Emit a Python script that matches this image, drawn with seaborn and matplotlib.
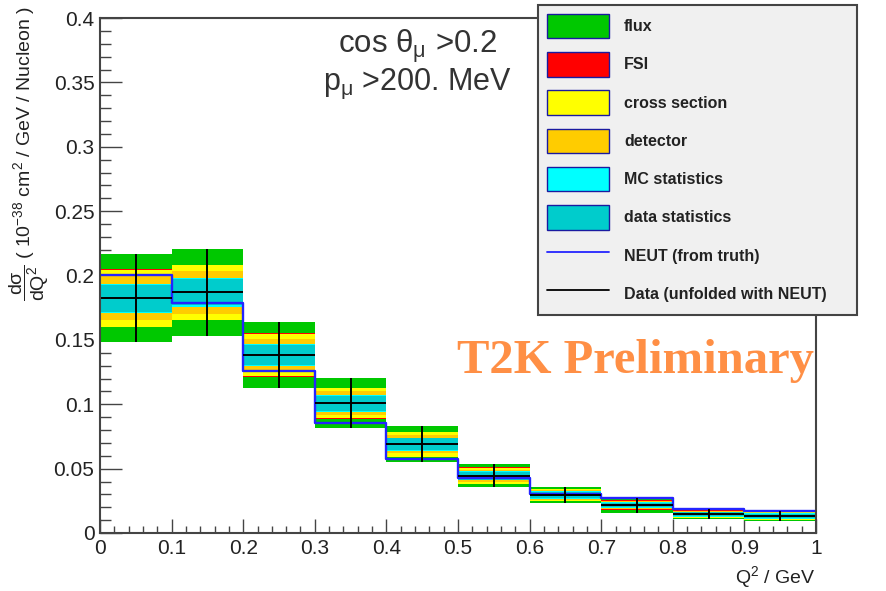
import numpy as np
import pandas as pd
import matplotlib
matplotlib.use("Agg")
import matplotlib.pyplot as plt
import seaborn as sns
from matplotlib.ticker import FixedLocator, FixedFormatter, MultipleLocator
from matplotlib.patches import Patch
from matplotlib.lines import Line2D

# ---- binning and measured cross section (10^-38 cm^2 / GeV / nucleon) ----
bin_edges = [0.0, 0.1, 0.2, 0.3, 0.4, 0.5, 0.6, 0.7, 0.8, 0.9, 1.0]
data_xsec = [0.1824, 0.1869, 0.1382, 0.1007, 0.0689, 0.0445, 0.0295, 0.0217, 0.0145, 0.0132]
neut_xsec = [0.2007, 0.1783, 0.1260, 0.0857, 0.0572, 0.0429, 0.0303, 0.0270, 0.0184, 0.0173]

# cumulative (quadrature-summed) half-widths of the uncertainty bands
err_flux      = [0.0340, 0.0340, 0.0259, 0.0194, 0.0140, 0.0091, 0.0065, 0.0058, 0.0040, 0.0042]
err_fsi       = [0.0226, 0.0216, 0.0170, 0.0120, 0.0097, 0.0064, 0.0049, 0.0042, 0.0031, 0.0033]
err_xsec      = [0.0222, 0.0213, 0.0160, 0.0117, 0.0095, 0.0062, 0.0048, 0.0034, 0.0029, 0.0031]
err_detector  = [0.0169, 0.0165, 0.0122, 0.0093, 0.0071, 0.0046, 0.0037, 0.0028, 0.0024, 0.0025]
err_mc_stat   = [0.0113, 0.0110, 0.0088, 0.0064, 0.0051, 0.0034, 0.0028, 0.0022, 0.0020, 0.0021]
err_data_stat = [0.0104, 0.0100, 0.0080, 0.0058, 0.0047, 0.0030, 0.0025, 0.0018, 0.0016, 0.0017]

band_labels = ["flux", "FSI", "cross section", "detector", "MC statistics", "data statistics"]
band_colors = ["#00c800", "#ff0000", "#ffff00", "#ffcc00", "#00ffff", "#00cccc"]
band_errors = [err_flux, err_fsi, err_xsec, err_detector, err_mc_stat, err_data_stat]

x_ticks = [0.0, 0.1, 0.2, 0.3, 0.4, 0.5, 0.6, 0.7, 0.8, 0.9, 1.0]
x_tick_labels = ["0", "0.1", "0.2", "0.3", "0.4", "0.5", "0.6", "0.7", "0.8", "0.9", "1"]
y_ticks = [0.0, 0.05, 0.1, 0.15, 0.2, 0.25, 0.3, 0.35, 0.4]
y_tick_labels = ["0", "0.05", "0.1", "0.15", "0.2", "0.25", "0.3", "0.35", "0.4"]

# ---- style ----
sns.set_style("ticks")
plt.rcParams["font.family"] = ["Liberation Sans", "DejaVu Sans"]
plt.rcParams["mathtext.fontset"] = "custom"
plt.rcParams["mathtext.rm"] = "Liberation Sans"
plt.rcParams["mathtext.it"] = "Liberation Sans:italic"
plt.rcParams["mathtext.default"] = "regular"

edges = np.array(bin_edges)
centers = 0.5 * (edges[:-1] + edges[1:])
widths = np.diff(edges)
df = pd.DataFrame({"q2": centers, "data": data_xsec, "neut": neut_xsec,
                   "width": widths})

fig = plt.figure(figsize=(8.86, 5.91), dpi=100)
ax = fig.add_axes([100 / 886, 1 - 533 / 591, 716 / 886, 515 / 591])

# stacked uncertainty bands, widest first
for lab, col, err in zip(band_labels, band_colors, band_errors):
    err = np.asarray(err)
    ax.bar(df["q2"], 2 * err, bottom=df["data"] - err, width=df["width"],
           color=col, linewidth=0, zorder=2)

# NEUT prediction as a step histogram
sns.histplot(data=df, x="q2", weights="neut", bins=bin_edges, element="step",
             fill=False, color="#2424ff", linewidth=1.7, ax=ax, zorder=4)

# unfolded data with total error bars
ax.errorbar(df["q2"], df["data"], xerr=df["width"] / 2, yerr=err_flux,
            fmt="none", ecolor="black", elinewidth=1.4, capsize=0, zorder=5)

ax.set_xlim(0, 1)
ax.set_ylim(0, 0.4)
ax.set_xlabel("")
ax.set_ylabel("")

ax.xaxis.set_major_locator(FixedLocator(x_ticks))
ax.xaxis.set_major_formatter(FixedFormatter(x_tick_labels))
ax.yaxis.set_major_locator(FixedLocator(y_ticks))
ax.yaxis.set_major_formatter(FixedFormatter(y_tick_labels))
ax.xaxis.set_minor_locator(MultipleLocator(0.02))
ax.yaxis.set_minor_locator(MultipleLocator(0.01))

axis_col = "#444444"
for s in ax.spines.values():
    s.set_color(axis_col)
    s.set_linewidth(1.5)
    s.set_zorder(6)
ax.tick_params(axis="both", which="both", direction="in", color=axis_col,
               width=1.0, labelsize=15, labelcolor="#222222",
               top=False, right=False)
ax.tick_params(axis="y", which="major", length=15.5, pad=4)
ax.tick_params(axis="y", which="minor", length=8)
ax.tick_params(axis="x", which="major", length=10, pad=4.5)
ax.tick_params(axis="x", which="minor", length=5)
for t in ax.get_xticklines() + ax.get_yticklines():
    t.set_zorder(7)

# axis titles
fig.text(29 / 886, 1 - 6 / 591,
         r"$\dfrac{d\sigma}{dQ^{2}}$ ( 10$^{-38}$ cm$^{2}$ / GeV / Nucleon )",
         rotation=90, ha="center", va="top", fontsize=14, color="#222222")
fig.text(816 / 886, 1 - 577 / 591, r"Q$^{2}$ / GeV", ha="right", va="center",
         fontsize=14, color="#222222")

# selection cuts
ax.text(0.444, 0.944, r"cos θ$_{μ}$ >0.2", transform=ax.transAxes,
        ha="center", va="center", fontsize=22.5, color="#333333")
ax.text(0.444, 0.873, r"p$_{μ}$ >200. MeV", transform=ax.transAxes,
        ha="center", va="center", fontsize=22, color="#333333")

fig.text(457 / 886, 1 - 373 / 591, "T2K Preliminary", ha="left", va="baseline",
         fontsize=35, fontweight="bold", family=["Liberation Serif", "DejaVu Serif"],
         color="#ff8f45")

# legend
handles = [Patch(facecolor=c, edgecolor="#1a1aa0", linewidth=1.0) for c in band_colors]
handles += [Line2D([], [], color="#2424ff", linewidth=1.3),
            Line2D([], [], color="black", linewidth=1.3)]
labels = band_labels + ["NEUT (from truth)", "Data (unfolded with NEUT)"]
leg = fig.legend(handles, labels, loc="upper left",
                 bbox_to_anchor=(538 / 886, 1 - 5 / 591, (857 - 538) / 886, 0),
                 mode="expand", prop={"family": "Liberation Sans", "weight": "bold", "size": 11.5},
                 handlelength=3.9, handleheight=2.0, handletextpad=0.95,
                 labelspacing=0.85, borderpad=0.55, borderaxespad=0,
                 frameon=True, fancybox=False, framealpha=1)
leg.get_frame().set_facecolor("#f0f0f0")
leg.get_frame().set_edgecolor("#444444")
leg.get_frame().set_linewidth(1.5)
for txt in leg.get_texts():
    txt.set_color("#222222")

fig.savefig("out.png", dpi=100)
